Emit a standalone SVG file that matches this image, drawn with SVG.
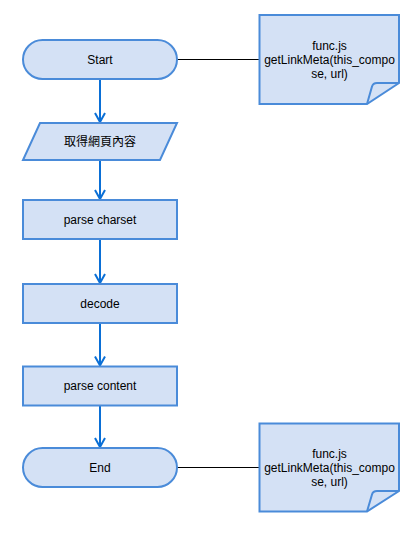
<svg xmlns="http://www.w3.org/2000/svg" width="413" height="545" viewBox="0 0 413 545">
<defs>
<style>
.shape{fill:#D4E1F5;stroke:#4A8BD9;stroke-width:2}
.fold{fill:none;stroke:#4A8BD9;stroke-width:2;stroke-linejoin:round}
.flow{fill:none;stroke:#0A6FD6;stroke-width:2}
.link{fill:none;stroke:#000;stroke-width:1}
text{font-family:"Liberation Sans","Noto Sans CJK TC",sans-serif;font-size:12px;fill:#000;text-anchor:middle}
</style>
<marker id="open" viewBox="0 0 12 12" refX="10" refY="6" markerWidth="12" markerHeight="12" markerUnits="userSpaceOnUse" orient="auto">
<path d="M1,1 L10,6 L1,11" fill="none" stroke="#0A6FD6" stroke-width="2"/>
</marker>
</defs>
<rect width="413" height="545" fill="#fff"/>
<g id="connectors">
<path class="flow" d="M100,79 V122" marker-end="url(#open)"/>
<path class="flow" d="M100,160 V199" marker-end="url(#open)"/>
<path class="flow" d="M100,239 V283" marker-end="url(#open)"/>
<path class="flow" d="M100,323 V365.5" marker-end="url(#open)"/>
<path class="flow" d="M100,405.5 V447" marker-end="url(#open)"/>
<path class="link" d="M177,59.5 H259.5"/>
<path class="link" d="M177,467.5 H259.5"/>
</g>
<g id="start">
<rect class="shape" x="23" y="40" width="154" height="39" rx="19.5" ry="19.5"/>
<text x="100" y="63.5">Start</text>
</g>
<g id="fetch">
<polygon class="shape" points="40,123 177,123 160,160 23,160"/>
<text x="100" y="145.5">取得網頁內容</text>
</g>
<g id="charset">
<rect class="shape" x="23" y="200" width="154" height="39"/>
<text x="100" y="223.5">parse charset</text>
</g>
<g id="decode">
<rect class="shape" x="23" y="284" width="154" height="39"/>
<text x="100" y="307.5">decode</text>
</g>
<g id="content">
<rect class="shape" x="23" y="366.5" width="154" height="39"/>
<text x="100" y="390">parse content</text>
</g>
<g id="end">
<rect class="shape" x="23" y="448" width="154" height="39" rx="19.5" ry="19.5"/>
<text x="100" y="471.5">End</text>
</g>
<g id="note1">
<path class="shape" d="M259.5,15 H399 V83 L367,104 H259.5 Z"/>
<path class="fold" d="M367,104 L372,86.5 Q373,83 377,83 H399"/>
<text x="329.5" y="49.5">func.js</text>
<text x="329.5" y="63.5">getLinkMeta(this_compo</text>
<text x="329.5" y="77.5">se, url)</text>
</g>
<g id="note2">
<path class="shape" d="M259.5,423.5 H399 V491 L367,511.5 H259.5 Z"/>
<path class="fold" d="M367,511.5 L372,494.5 Q373,491 377,491 H399"/>
<text x="329.5" y="457.5">func.js</text>
<text x="329.5" y="471.5">getLinkMeta(this_compo</text>
<text x="329.5" y="485.5">se, url)</text>
</g>
</svg>
